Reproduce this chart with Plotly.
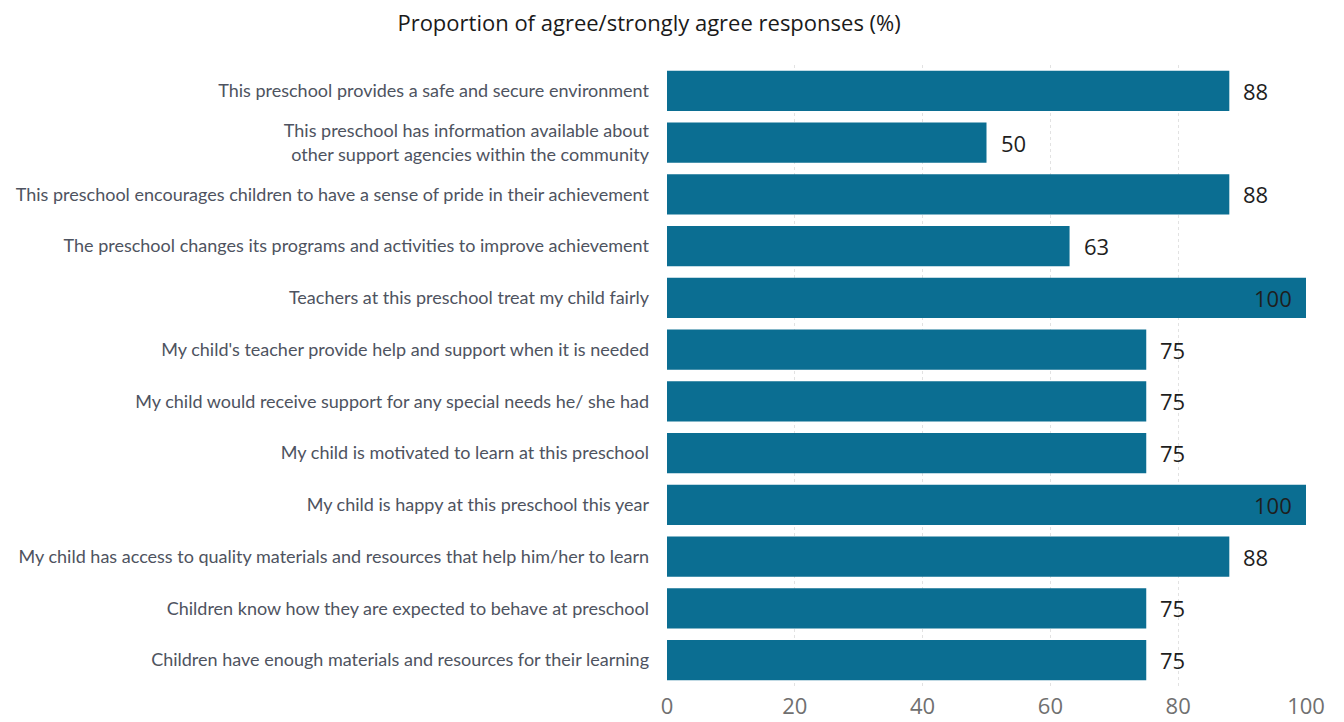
import plotly.graph_objects as go

categories = [
    "This preschool provides a safe and secure environment",
    "This preschool has information available about<br>other support agencies within the community",
    "This preschool encourages children to have a sense of pride in their achievement",
    "The preschool changes its programs and activities to improve achievement",
    "Teachers at this preschool treat my child fairly",
    "My child's teacher provide help and support when it is needed",
    "My child would receive support for any special needs he/ she had",
    "My child is motivated to learn at this preschool",
    "My child is happy at this preschool this year",
    "My child has access to quality materials and resources that help him/her to learn",
    "Children know how they are expected to behave at preschool",
    "Children have enough materials and resources for their learning",
]
values = [88, 50, 88, 63, 100, 75, 75, 75, 100, 88, 75, 75]
tick_vals = [0, 20, 40, 60, 80, 100]

fig = go.Figure(go.Bar(
    y=categories, x=values, orientation="h",
    marker=dict(color="#0b6e92", line=dict(width=0)),
    hoverinfo="x+y",
))

for cat, v in zip(categories, values):
    inside = v >= 100
    fig.add_annotation(
        x=v, y=cat, text=str(v), showarrow=False,
        xanchor="right" if inside else "left",
        xshift=-12 if inside else 12,
        font=dict(size=22, color="#1e1e1e", family="Open Sans"),
    )

fig.update_layout(
    width=1344, height=722,
    margin=dict(l=659, r=46, t=57, b=44),
    paper_bgcolor="white", plot_bgcolor="white",
    bargap=0.22,
    showlegend=False,
    title=dict(text="Proportion of agree/strongly agree responses (%)",
               x=0.477, xanchor="center", y=0.979, yanchor="middle",
               font=dict(size=22, color="#1a1a1a", family="Open Sans")),
    font=dict(family="Open Sans"),
)
fig.update_xaxes(range=[0, 100], tickvals=tick_vals, showgrid=True,
                 gridcolor="#e2e2e2", griddash="dot", gridwidth=1,
                 zeroline=False, showline=False, automargin=False,
                 tickfont=dict(size=22, color="#707070", family="Open Sans"),
                 ticks="", ticklabelstandoff=5)
fig.update_yaxes(autorange="reversed", showgrid=False, zeroline=False,
                 showline=False, ticks="", ticklabelstandoff=17, automargin=False,
                 tickfont=dict(size=18, color="#4e5360", family="Lato"))

fig.write_html("out.html")
